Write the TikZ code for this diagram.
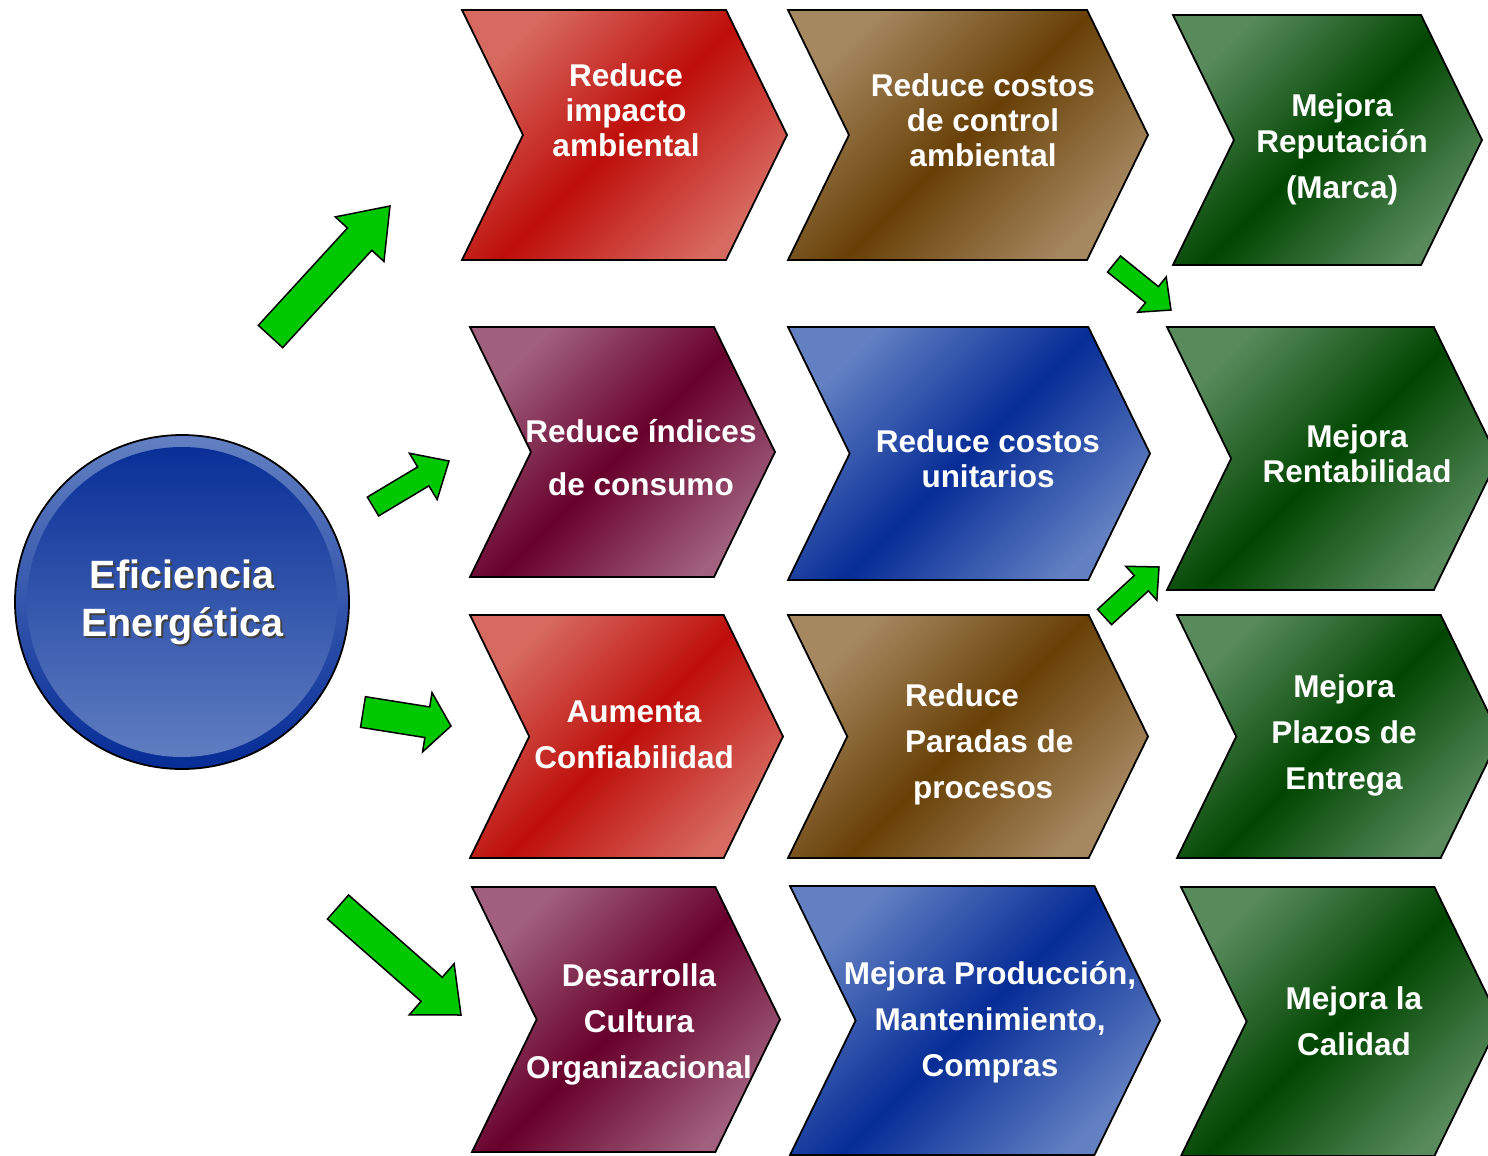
\documentclass[tikz,border=0pt]{standalone}
\usepackage{fontspec}
\setmainfont{Liberation Sans}
\usetikzlibrary{shapes.symbols,calc}

\definecolor{rojoclaro}{RGB}{215,106,96}
\definecolor{rojo}{RGB}{190,14,10}
\definecolor{cafeclaro}{RGB}{166,136,96}
\definecolor{cafe}{RGB}{104,64,6}
\definecolor{verdeclaro}{RGB}{88,138,92}
\definecolor{verde}{RGB}{0,70,0}
\definecolor{granateclaro}{RGB}{160,96,126}
\definecolor{granate}{RGB}{104,0,44}
\definecolor{azulclaro}{RGB}{98,128,194}
\definecolor{azul}{RGB}{6,44,150}
\definecolor{flechaverde}{RGB}{0,200,0}

% block arrow: tail, tip, half shaft, half head, head length
\newcommand\flecha[5]{%
  \coordinate (hb) at ($(#2)!#5pt!(#1)$);
  \draw[flecha] ($(#1)!#3pt!90:(#2)$) -- ($(hb)!#3pt!90:(#2)$) -- ($(hb)!#4pt!90:(#2)$) -- (#2)
    -- ($(hb)!#4pt!-90:(#2)$) -- ($(hb)!#3pt!-90:(#2)$) -- ($(#1)!#3pt!-90:(#2)$) -- cycle;
}

\tikzset{
  chev/.style={signal, signal from=west, signal to=east, signal pointer angle=128,
    draw=black, line width=1.8pt, inner sep=0pt, outer sep=0pt},
  chevrojo/.style={chev, top color=rojoclaro, bottom color=rojoclaro, middle color=rojo, shading angle=45},
  chevcafe/.style={chev, top color=cafeclaro, bottom color=cafeclaro, middle color=cafe, shading angle=45},
  chevverde/.style={chev, top color=verdeclaro, bottom color=verdeclaro, middle color=verde, shading angle=45},
  chevgranate/.style={chev, top color=granateclaro, bottom color=granateclaro, middle color=granate, shading angle=45},
  chevazul/.style={chev, top color=azulclaro, bottom color=azulclaro, middle color=azul, shading angle=45},
  chevtexto/.style={text=white, align=center, inner sep=0pt, font=\fontsize{31.5}{#1}\selectfont\bfseries},
  chevtexto/.default=35,
  flecha/.style={fill=flechaverde, draw=black, line width=1.5pt, line join=miter},
  ee/.style={circle, minimum size=334pt, draw=black, line width=1.8pt,
    top color=azulclaro, bottom color=azul, text=white, align=center,
    font=\fontsize{39.5}{48}\selectfont\bfseries,
    path picture={
      \shade[top color=azul, bottom color=azulclaro] (path picture bounding box.center) circle (155);
      \node[text=black!75, align=center, font=\fontsize{39.5}{48}\selectfont\bfseries]
        at ([shift={(2,-2.5)}]path picture bounding box.center) {Eficiencia\\Energética};
    }},
}

\begin{document}
\begin{tikzpicture}[x=1pt,y=1pt]
\useasboundingbox (0,0) rectangle (1488,-1156);
\clip (0,0) rectangle (1488,-1156);

% central circle
\node[ee] (ee) at (182,-602) {Eficiencia\\Energética};

% chevrons, row by row
\node[chevrojo, minimum width=325pt, minimum height=250pt] (c11) at (624.5,-135) {};
\node[chevcafe, minimum width=360pt, minimum height=250pt] (c12) at (968,-135) {};
\node[chevverde, minimum width=309pt, minimum height=250pt] (c13) at (1327.5,-140) {};

\node[chevgranate, minimum width=305pt, minimum height=250pt] (c21) at (622.5,-452) {};
\node[chevazul, minimum width=362pt, minimum height=253pt] (c22) at (969,-453.5) {};
\node[chevverde, minimum width=331pt, minimum height=263pt] (c23) at (1332.5,-458.5) {};

\node[chevrojo, minimum width=313pt, minimum height=243pt] (c31) at (626.5,-736.5) {};
\node[chevcafe, minimum width=360pt, minimum height=243pt] (c32) at (968,-736.5) {};
\node[chevverde, minimum width=323pt, minimum height=243pt] (c33) at (1338.5,-736.5) {};

\node[chevgranate, minimum width=308pt, minimum height=265pt] (c41) at (626,-1019.5) {};
\node[chevazul, minimum width=370pt, minimum height=269pt] (c42) at (975,-1020.5) {};
\node[chevverde, minimum width=319pt, minimum height=269pt] (c43) at (1340.5,-1021.5) {};

% texts
\node[chevtexto] (t11) at (626,-110) {Reduce\\impacto\\ambiental};
\node[chevtexto] (t12) at (983,-120) {Reduce costos\\de control\\ambiental};
\node[chevtexto=36] (t13) at (1342,-149) {Mejora\\Reputación\\[10pt](Marca)};
\node[chevtexto=53] (t21) at (641,-457.5) {Reduce índices\\de consumo};
\node[chevtexto] (t22) at (988,-458.5) {Reduce costos\\unitarios};
\node[chevtexto] (t23) at (1357,-453.5) {Mejora\\Rentabilidad};
\node[chevtexto=46] (t31) at (634,-735) {Aumenta\\Confiabilidad};
\node[chevtexto=46, align=left, anchor=west] (t32) at (905,-744) {Reduce\\Paradas de\\\hspace*{8pt}procesos};
\node[chevtexto=46] (t33) at (1344,-735) {Mejora\\Plazos de\\Entrega};
\node[chevtexto=46] (t41) at (639,-1024) {Desarrolla\\Cultura\\Organizacional};
\node[chevtexto=46] (t42) at (990,-1022) {Mejora Producción,\\Mantenimiento,\\Compras};
\node[chevtexto=46] (t43) at (1354,-1021) {Mejora la\\Calidad};

% green arrows
\coordinate (a1s) at (270.5,-336.5); \coordinate (a1e) at (390,-206);
\coordinate (a2s) at (373,-506.5);   \coordinate (a2e) at (449,-461);
\coordinate (a3s) at (363,-712);     \coordinate (a3e) at (451,-726);
\coordinate (a4s) at (338,-907);     \coordinate (a4e) at (461,-1015);
\coordinate (a5s) at (1114,-264);    \coordinate (a5e) at (1171,-310);
\coordinate (a6s) at (1104.5,-617);  \coordinate (a6e) at (1159,-567);
\flecha{a1s}{a1e}{16.5}{33}{45}
\flecha{a2s}{a2e}{11}{27}{30}
\flecha{a3s}{a3e}{15.5}{30}{24}
\flecha{a4s}{a4e}{16}{34}{39}
\flecha{a5s}{a5e}{10.3}{22.7}{24.5}
\flecha{a6s}{a6e}{10.4}{23}{24}
\end{tikzpicture}
\end{document}
